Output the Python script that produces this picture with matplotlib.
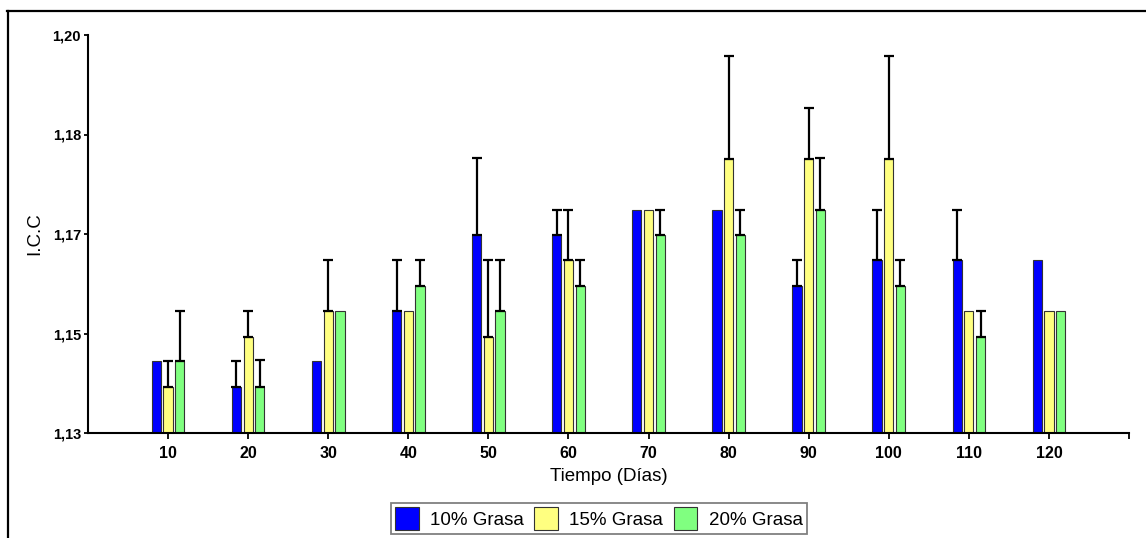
# ======================================================= #
# LIBRARIES
# ======================================================= #
import numpy as np
import matplotlib
matplotlib.use("Agg")
import matplotlib.pyplot as plt
from matplotlib.lines import Line2D

plt.rcParams["font.family"] = ["Liberation Sans", "DejaVu Sans"]

# ======================================================= #
# DATA
# ======================================================= #
dias = [10, 20, 30, 40, 50, 60, 70, 80, 90, 100, 110, 120]
series = ["10% Grasa", "15% Grasa", "20% Grasa"]
colores = ["#0000ff", "#ffff80", "#80ff80"]

icc_10 = [1.1426, 1.1381, 1.1426, 1.1514, 1.1649, 1.1649, 1.1692, 1.1692, 1.1559, 1.1605, 1.1605, 1.1605]
icc_15 = [1.1381, 1.1468, 1.1514, 1.1514, 1.1468, 1.1605, 1.1692, 1.1782, 1.1782, 1.1782, 1.1514, 1.1514]
icc_20 = [1.1426, 1.1381, 1.1514, 1.1559, 1.1514, 1.1559, 1.1649, 1.1649, 1.1692, 1.1559, 1.1468, 1.1514]

# upper error (0 = no error bar)
err_10 = [0.0, 0.0045, 0.0, 0.0091, 0.0135, 0.0044, 0.0, 0.0, 0.0046, 0.0088, 0.0088, 0.0]
err_15 = [0.0046, 0.0047, 0.0091, 0.0, 0.0137, 0.0088, 0.0, 0.0181, 0.0089, 0.0181, 0.0, 0.0]
err_20 = [0.0089, 0.0047, 0.0, 0.0046, 0.0091, 0.0046, 0.0044, 0.0044, 0.0092, 0.0046, 0.0047, 0.0]

y_ticks_labels = ["1,13", "1,15", "1,17", "1,18", "1,20"]

# ======================================================= #
# FIGURE
# ======================================================= #
fig = plt.figure(figsize=(11.46, 5.38), dpi=100)
ax = fig.add_axes([88/1146, 1-433/538, (1129-88)/1146, (433-35)/538])

x = np.array(dias, dtype=float)
width = 1.15
offsets = [-1.46, 0.0, 1.46]
values = [icc_10, icc_15, icc_20]
errors = [err_10, err_15, err_20]

for i in range(3):
    xi = x + offsets[i]
    ax.bar(xi, values[i], width=width, bottom=0, color=colores[i], edgecolor="#333333",
           linewidth=0.8, label=series[i], zorder=2)
    err = np.array(errors[i])
    m = err > 0
    ax.errorbar(xi[m], np.array(values[i])[m], yerr=[np.zeros(m.sum()), err[m]], fmt="none",
                ecolor="black", elinewidth=1.6, capsize=3.6, capthick=1.6, zorder=3)

# axes
ax.set_xlim(0, 130)
ax.set_ylim(1.13, 1.20)
ax.set_yticks(np.linspace(1.13, 1.20, 5))
ax.set_yticklabels(y_ticks_labels)
ax.set_xticks(dias + [130])
ax.set_xticklabels([str(d) for d in dias] + [""])
for lab in ax.get_xticklabels() + ax.get_yticklabels():
    lab.set_fontweight("bold")
ax.tick_params(axis="both", width=1.3, color="black")
ax.tick_params(axis="y", length=3, pad=2, labelsize=10.5)
ax.tick_params(axis="x", length=4, pad=5, labelsize=11.5)
for s in ["top", "right"]:
    ax.spines[s].set_visible(False)
for s in ["left", "bottom"]:
    ax.spines[s].set_linewidth(1.5)

ax.set_xlabel("Tiempo (Días)", fontsize=13.5)
ax.xaxis.set_label_coords(0.5, -0.088)
ax.set_ylabel("I.C.C", fontsize=13.5)
ax.yaxis.set_label_coords(-0.043, 0.5)

# legend
leg = fig.legend(loc="upper left", bbox_to_anchor=(391/1146, 1-503/538), ncol=3, fontsize=13.5,
                 handlelength=1.27, handleheight=1.5, handletextpad=0.6, columnspacing=0.55,
                 borderpad=0.22, borderaxespad=0, fancybox=False, framealpha=1)
leg.get_frame().set_edgecolor("#808080")
leg.get_frame().set_linewidth(1.3)

# outer frame
fig.add_artist(Line2D([7/1146, 1], [1-11/538, 1-11/538], transform=fig.transFigure, color="black", lw=1.6))
fig.add_artist(Line2D([8/1146, 8/1146], [0, 1-11/538], transform=fig.transFigure, color="black", lw=1.6))

fig.savefig("out.png", dpi=100)
plt.close(fig)
